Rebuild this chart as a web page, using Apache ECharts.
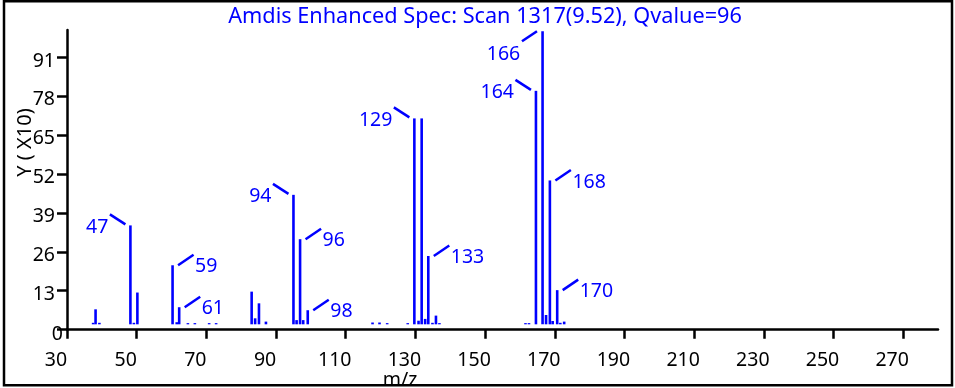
<!DOCTYPE html>
<html><head><meta charset="utf-8">
<script src="https://cdn.jsdelivr.net/npm/echarts@6/dist/echarts.min.js"></script>
<style>html,body{margin:0;padding:0;background:#fff;overflow:hidden}#c{width:955px;height:388px}</style>
</head><body><div id="c"></div>
<script>
const titleText = 'Amdis Enhanced Spec: Scan 1317(9.52), Qvalue=96';
const xAxisName = 'm/z';
const yAxisName = 'Y ( X10)';
const xTicks = [30, 50, 70, 90, 110, 130, 150, 170, 190, 210, 230, 250, 270];
const yTicks = [0, 13, 26, 39, 52, 65, 78, 91];
// peak positions as read on the plotted m/z axis, intensities in axis units (x10)
const peakMz = [37.5, 38.2, 39.3, 48.2, 49.2, 50.2, 60.3, 61.5, 62.2, 64.7, 66.7, 70.8, 72.8,
  83.0, 84.0, 85.1, 87.1, 95.0, 95.9, 96.9, 97.8, 99.1, 117.7, 119.7, 121.9, 127.8,
  129.7, 130.9, 131.8, 132.8, 133.7, 134.9, 135.9, 136.9, 161.6, 162.6,
  164.6, 166.5, 167.5, 168.6, 169.4, 170.7, 171.6, 172.7];
const peakIntensity = [2.3, 6.8, 2.3, 34.8, 2.3, 12.4, 21.5, 2.5, 7.5, 2.2, 2.2, 2.2, 2.2,
  12.7, 3.8, 8.8, 2.7, 45.0, 3.2, 30.2, 3.2, 6.5, 2.4, 2.4, 2.2, 2.2,
  70.5, 3.0, 70.5, 3.6, 24.6, 2.3, 4.7, 2.2, 2.2, 2.2,
  79.7, 99.6, 4.9, 49.8, 2.9, 13.2, 2.3, 2.7];
const labelText = ['47', '59', '61', '94', '96', '98', '129', '133', '164', '166', '168', '170'];
const labelAtMz = [48.2, 60.3, 62.2, 95.0, 96.9, 99.1, 129.7, 133.7, 164.6, 166.5, 168.6, 170.7];
const labelSide = ['left', 'right', 'right', 'left', 'right', 'right', 'left', 'right', 'left', 'below', 'right', 'right'];
const BASE = 1.8;

const BLUE = '#0000ff';
const FONT = '"Noto Sans", "Open Sans", sans-serif';

const peakData = peakMz.map((m, i) => [m, peakIntensity[i]]);
const labelData = labelAtMz.map((m, i) => [m, peakIntensity[peakMz.indexOf(m)], i]);

const chart = echarts.init(document.getElementById('c'), null, {renderer: 'canvas'});
chart.setOption({
  animation: false,
  backgroundColor: '#fff',
  grid: {left: 67, right: 17, top: 30, bottom: 58.3, containLabel: false},
  xAxis: {
    type: 'value', min: 30, max: 280, interval: 20,
    axisLine: {show: true, onZero: false, lineStyle: {color: '#000', width: 2.5}},
    axisTick: {show: true, customValues: xTicks, length: 9, inside: false, lineStyle: {color: '#000', width: 2.5}},
    axisLabel: {customValues: xTicks, color: '#000', fontSize: 19.5, fontFamily: FONT, margin: 21, padding: [0, 22, 0, 0]},
    splitLine: {show: false}
  },
  yAxis: {
    type: 'value', min: 0, max: 100, interval: 13,
    axisLine: {show: true, lineStyle: {color: '#000', width: 2.5}},
    axisTick: {show: true, customValues: yTicks, length: 10, inside: false, lineStyle: {color: '#000', width: 2.5}},
    axisLabel: {
      customValues: yTicks, color: '#000', fontSize: 19.5, fontFamily: FONT, margin: 12,
      formatter: v => (v === 0 ? '{z|0}' : '{a|' + v + '}'),
      rich: {
        a: {fontSize: 19.5, fontFamily: FONT, color: '#000', padding: [8, 0, 0, 0]},
        z: {fontSize: 19.5, fontFamily: FONT, color: '#000', padding: [10, -8, 0, 0]}
      }
    },
    splitLine: {show: false}
  },
  series: [
    {
      type: 'custom',
      data: peakData,
      clip: false,
      renderItem: function (params, api) {
        const top = api.coord([api.value(0), api.value(1)]);
        const bot = api.coord([api.value(0), BASE]);
        return {type: 'rect', shape: {x: top[0] - 1.3, y: top[1], width: 2.6, height: bot[1] - top[1]}, style: {fill: BLUE}};
      }
    },
    {
      type: 'custom',
      data: labelData,
      clip: false,
      renderItem: function (params, api) {
        const i = api.value(2);
        const p = api.coord([api.value(0), api.value(1)]);
        const side = labelSide[i];
        let l, tx, ty, al;
        if (side === 'left') {
          l = [p[0] - 5, p[1] - 1, p[0] - 20.5, p[1] - 11]; tx = p[0] - 22; ty = p[1] + 2; al = 'right';
        } else if (side === 'right') {
          l = [p[0] + 5.5, p[1], p[0] + 21, p[1] - 10.5]; tx = p[0] + 22.5; ty = p[1] + 1.5; al = 'left';
        } else {
          l = [p[0] - 5.6, p[1], p[0] - 20.6, p[1] + 10]; tx = p[0] - 22.3; ty = p[1] + 23; al = 'right';
        }
        return {
          type: 'group',
          children: [
            {type: 'line', shape: {x1: l[0], y1: l[1], x2: l[2], y2: l[3]}, style: {stroke: BLUE, lineWidth: 2.5}},
            {type: 'text', x: tx, y: ty, style: {text: labelText[i], fill: BLUE, font: '19.5px ' + FONT, align: al, verticalAlign: 'middle'}}
          ]
        };
      }
    }
  ],
  graphic: [
    {type: 'text', x: 485, y: 17, z: 10, style: {text: titleText, fill: BLUE, font: '21.7px ' + FONT, align: 'center', verticalAlign: 'middle'}},
    {type: 'text', x: 25, y: 142.5, rotation: Math.PI / 2, z: 10, style: {text: yAxisName, fill: '#000', font: '20px ' + FONT, align: 'center', verticalAlign: 'middle'}},
    {type: 'text', x: 400, y: 380, z: 10, style: {text: xAxisName, fill: '#000', font: '19.5px ' + FONT, align: 'center', verticalAlign: 'middle'}},
    {type: 'rect', z: 20, shape: {x: 4, y: 1.2, width: 948, height: 384}, style: {fill: 'none', stroke: '#000', lineWidth: 2.5}}
  ]
});
</script></body></html>
